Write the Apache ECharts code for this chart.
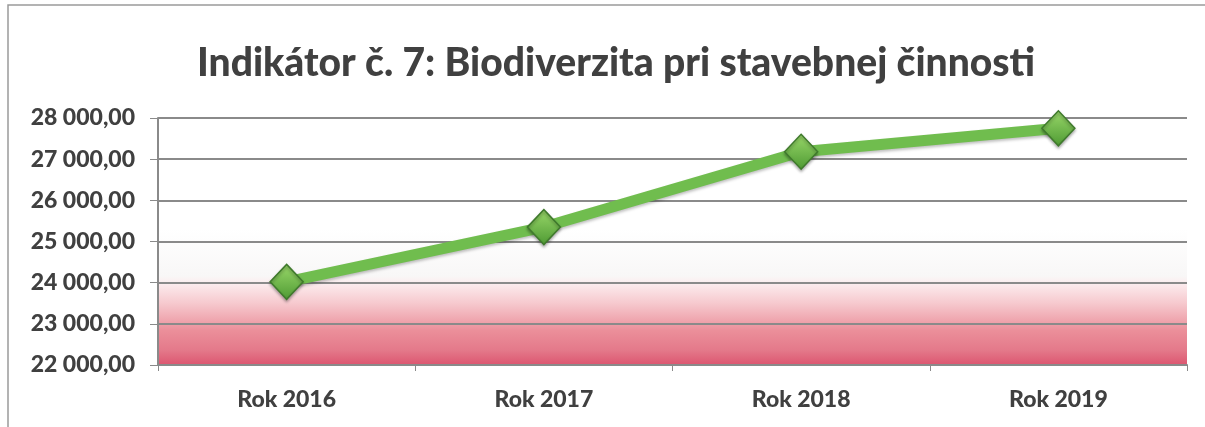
<!DOCTYPE html>
<html>
<head>
<meta charset="utf-8">
<script src="https://cdn.jsdelivr.net/npm/echarts@6/dist/echarts.min.js"></script>
<style>
  html, body { margin: 0; padding: 0; background: #fff; }
  #chart { width: 1205px; height: 427px; }
</style>
</head>
<body>
<div id="chart"></div>
<script>
// data
var categories = ["Rok 2016", "Rok 2017", "Rok 2018", "Rok 2019"];
var values = [24020, 25350, 27180, 27750];
var yMin = 22000, yMax = 28000, yStep = 1000;
var titleText = "Indikátor č. 7: Biodiverzita pri stavebnej činnosti";

var font = "Lato, 'Open Sans', sans-serif";

// 28000 -> "28 000,00"
function fmt(v) {
  var s = Math.round(v).toString().replace(/\B(?=(\d{3})+(?!\d))/g, " ");
  return s + ",00";
}

var chart = echarts.init(document.getElementById("chart"));
chart.setOption({
  animation: false,
  backgroundColor: "#fff",
  title: {
    text: titleText,
    left: 192,
    top: 39,
    textStyle: { fontFamily: font, fontSize: 39, fontWeight: 900, color: "#404040" }
  },
  graphic: [
    {
      type: "rect",
      shape: { x: 8, y: 5, width: 1200, height: 430 },
      style: { fill: "none", stroke: "#9a9a9a", lineWidth: 1.5 },
      silent: true
    }
  ],
  grid: {
    left: 158, right: 18, top: 118, bottom: 62,
    show: true,
    borderWidth: 0,
    backgroundColor: {
      type: "linear", x: 0, y: 0, x2: 0, y2: 1,
      colorStops: [
        { offset: 0, color: "#ffffff" },
        { offset: 0.45, color: "#ffffff" },
        { offset: 0.64, color: "#f8f7f7" },
        { offset: 0.67, color: "#fcecee" },
        { offset: 0.75, color: "#f6c9ce" },
        { offset: 0.82, color: "#efa5ae" },
        { offset: 0.86, color: "#eb8f9a" },
        { offset: 0.94, color: "#e4798a" },
        { offset: 1, color: "#dc5670" }
      ]
    }
  },
  xAxis: {
    type: "category",
    data: categories,
    boundaryGap: true,
    axisLine: { show: true, lineStyle: { color: "#8a8a8a", width: 2 } },
    axisTick: { show: true, length: 6, lineStyle: { color: "#8a8a8a" } },
    axisLabel: { fontFamily: font, fontSize: 23, fontWeight: 900, color: "#404040", margin: 23 }
  },
  yAxis: {
    type: "value",
    min: yMin, max: yMax, interval: yStep,
    axisLine: { show: true, lineStyle: { color: "#8a8a8a", width: 2 } },
    axisTick: { show: true, length: 8, lineStyle: { color: "#8a8a8a" } },
    splitLine: { show: true, lineStyle: { color: "#8a8a8a", width: 2 } },
    axisLabel: {
      formatter: fmt,
      fontFamily: font, fontSize: 23, fontWeight: 900, color: "#404040", margin: 23
    }
  },
  series: [
    {
      type: "line",
      data: values,
      symbol: "diamond",
      symbolSize: [33, 35],
      lineStyle: {
        color: "#70bd4e", width: 11,
        shadowColor: "rgba(0,0,0,0.25)", shadowBlur: 3, shadowOffsetY: 2
      },
      itemStyle: {
        color: {
          type: "linear", x: 0, y: 0, x2: 0, y2: 1,
          colorStops: [
            { offset: 0, color: "#9ad86a" },
            { offset: 1, color: "#4e9a33" }
          ]
        },
        borderColor: "#3f7a2c",
        borderWidth: 1.5,
        shadowColor: "rgba(0,0,0,0.3)", shadowBlur: 3, shadowOffsetY: 2
      },
      z: 5
    }
  ]
});
</script>
</body>
</html>
